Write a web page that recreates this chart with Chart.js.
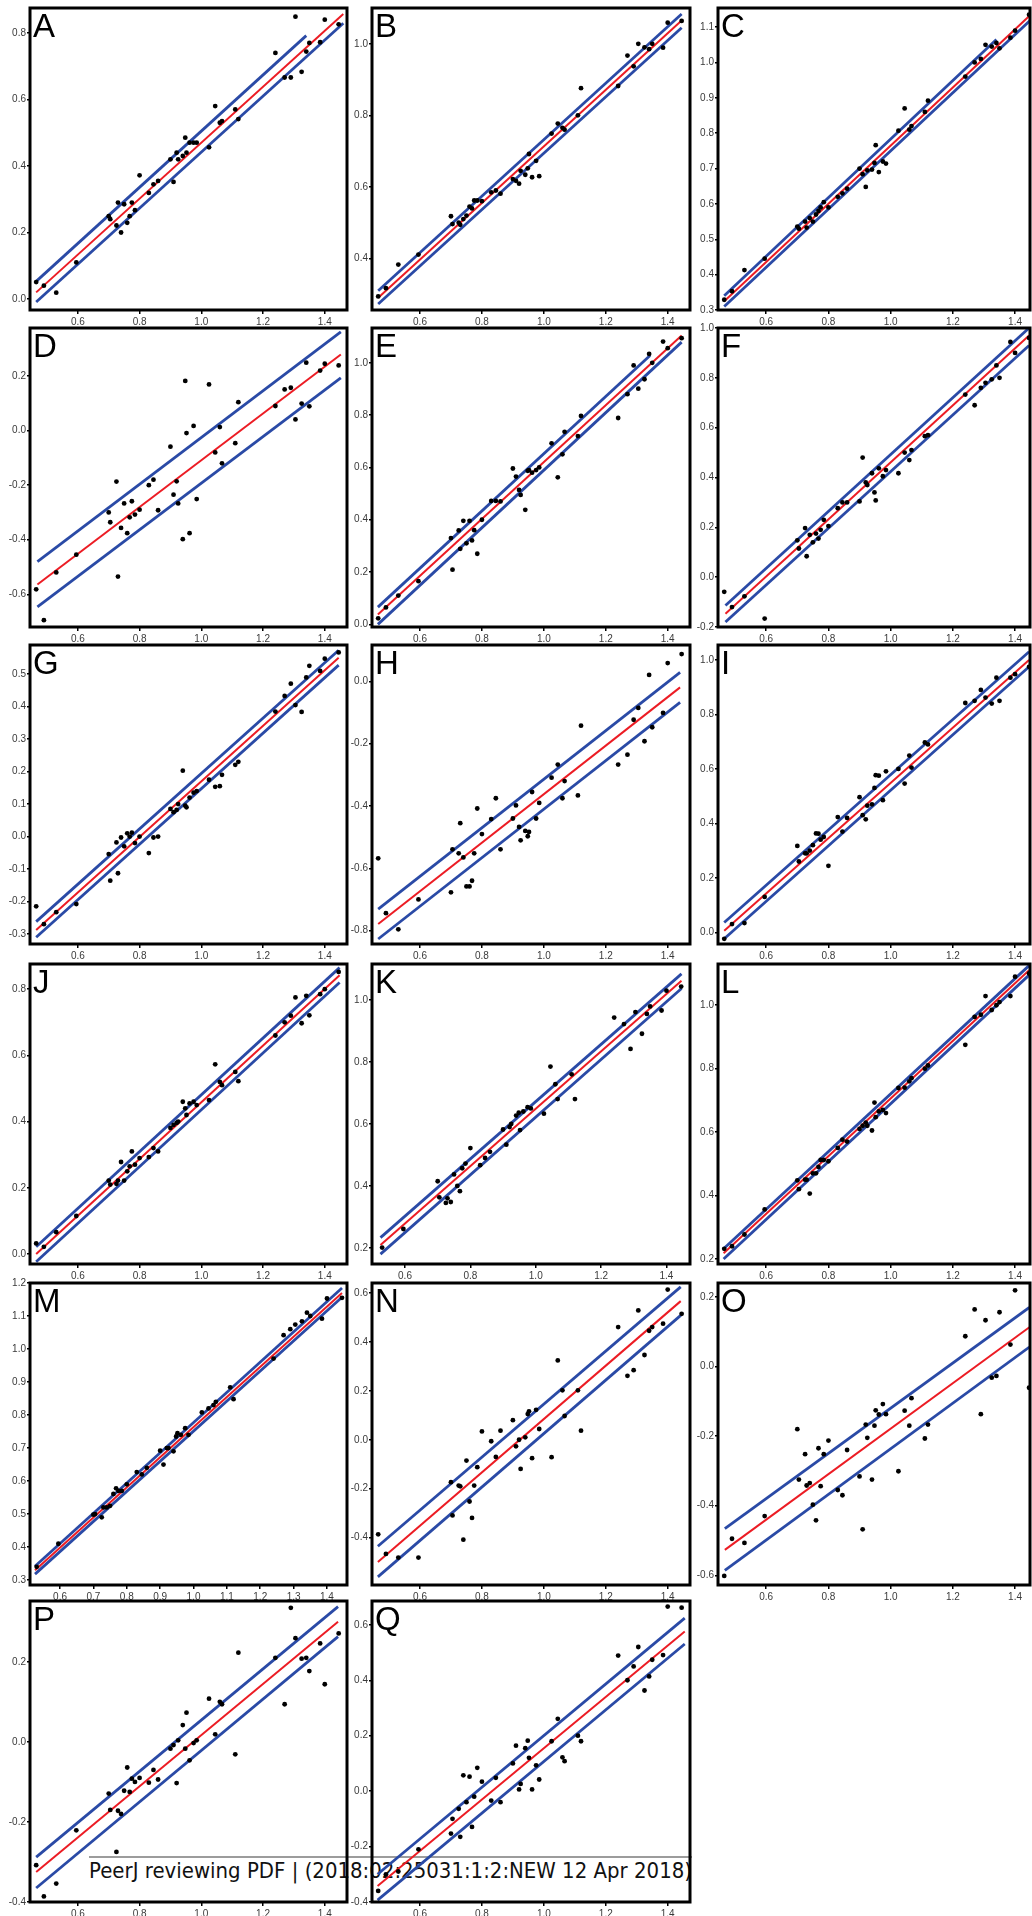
<!DOCTYPE html>
<html>
<head>
<meta charset="utf-8">
<script src="https://cdn.jsdelivr.net/npm/chart.js@4.4.0/dist/chart.umd.min.js"></script>
<style>
  body { margin: 0; background: #fff; width: 1032px; height: 1916px; position: relative; overflow: hidden; }
  canvas { position: absolute; }
  #footLine { position: absolute; left: 89px; top: 1856px; width: 603px; border-top: 2px solid #9c9c9c; }
  #foot { position: absolute; left: 89px; top: 1861px; font: 21px "DejaVu Sans", sans-serif; line-height: 1; color: #111; white-space: nowrap; transform-origin: 0 0; }
</style>
</head>
<body>
<div id="footLine"></div>
<div id="foot"><span id="footText">PeerJ reviewing PDF | (2018:02:25031:1:2:NEW 12 Apr 2018)</span></div>
<script>
// shared x values (same samples in every panel)
const xs = [0.465, 0.49, 0.53, 0.595, 0.70, 0.705, 0.725, 0.73, 0.74, 0.75, 0.76, 0.768, 0.775, 0.785, 0.80, 0.83, 0.845, 0.86, 0.90, 0.91, 0.92, 0.925, 0.94, 0.948, 0.952, 0.962, 0.975, 0.985, 1.025, 1.045, 1.06, 1.067, 1.11, 1.12, 1.24, 1.27, 1.29, 1.305, 1.325, 1.34, 1.35, 1.385, 1.40, 1.445];

const yA = [0.051, 0.04, 0.019, 0.11, 0.249, 0.24, 0.221, 0.29, 0.2, 0.285, 0.229, 0.249, 0.29, 0.267, 0.372, 0.319, 0.345, 0.355, 0.42, 0.352, 0.44, 0.42, 0.43, 0.485, 0.44, 0.47, 0.47, 0.47, 0.456, 0.58, 0.53, 0.535, 0.57, 0.541, 0.74, 0.666, 0.666, 0.849, 0.683, 0.744, 0.77, 0.772, 0.84, 0.826];
const yB = [0.294, 0.317, 0.383, 0.411, 0.518, 0.496, 0.50, 0.494, 0.51, 0.52, 0.545, 0.54, 0.562, 0.562, 0.56, 0.585, 0.59, 0.581, 0.622, 0.617, 0.609, 0.645, 0.634, 0.652, 0.692, 0.627, 0.673, 0.63, 0.749, 0.777, 0.765, 0.76, 0.80, 0.876, 0.882, 0.967, 0.937, 1.0, 0.99, 0.985, 1.0, 0.989, 1.059, 1.064];
const yC = [0.329, 0.353, 0.413, 0.445, 0.536, 0.53, 0.55, 0.533, 0.56, 0.55, 0.57, 0.58, 0.59, 0.605, 0.59, 0.62, 0.63, 0.643, 0.70, 0.684, 0.648, 0.695, 0.697, 0.716, 0.766, 0.69, 0.72, 0.714, 0.807, 0.87, 0.81, 0.82, 0.86, 0.892, 0.96, 1.0, 1.01, 1.05, 1.045, 1.055, 1.04, 1.07, 1.09, 1.135];
const yD = [-0.582, -0.695, -0.52, -0.455, -0.30, -0.336, -0.187, -0.535, -0.357, -0.267, -0.376, -0.318, -0.259, -0.308, -0.29, -0.2, -0.18, -0.292, -0.059, -0.235, -0.186, -0.267, -0.398, 0.182, -0.009, -0.376, 0.017, -0.251, 0.169, -0.08, 0.013, -0.12, -0.046, 0.104, 0.09, 0.151, 0.157, 0.041, 0.099, 0.249, 0.089, 0.22, 0.245, 0.239];
const yE = [0.023, 0.065, 0.11, 0.165, 0.33, 0.209, 0.359, 0.289, 0.396, 0.31, 0.396, 0.321, 0.36, 0.27, 0.40, 0.472, 0.472, 0.47, 0.596, 0.565, 0.514, 0.495, 0.438, 0.587, 0.59, 0.58, 0.59, 0.60, 0.692, 0.562, 0.65, 0.736, 0.72, 0.797, 0.789, 0.88, 0.99, 0.901, 0.937, 1.034, 1.0, 1.081, 1.056, 1.094];
const yF = [-0.059, -0.12, -0.077, -0.166, 0.148, 0.115, 0.197, 0.084, 0.17, 0.14, 0.175, 0.155, 0.19, 0.23, 0.205, 0.277, 0.30, 0.30, 0.304, 0.48, 0.38, 0.37, 0.417, 0.34, 0.308, 0.437, 0.405, 0.43, 0.417, 0.50, 0.47, 0.51, 0.566, 0.57, 0.733, 0.69, 0.76, 0.78, 0.794, 0.85, 0.80, 0.944, 0.90, 0.96];
const yG = [-0.215, -0.27, -0.233, -0.208, -0.054, -0.136, -0.018, -0.113, -0.003, -0.03, 0.01, 0.0, 0.012, -0.02, 0.0, -0.051, -0.003, 0.0, 0.085, 0.075, 0.082, 0.1, 0.203, 0.095, 0.09, 0.12, 0.135, 0.14, 0.175, 0.153, 0.155, 0.19, 0.221, 0.23, 0.385, 0.433, 0.471, 0.405, 0.384, 0.49, 0.526, 0.51, 0.548, 0.567];
const yH = [-0.568, -0.744, -0.796, -0.70, -0.677, -0.539, -0.552, -0.455, -0.565, -0.658, -0.658, -0.64, -0.552, -0.408, -0.49, -0.442, -0.375, -0.539, -0.44, -0.398, -0.467, -0.51, -0.48, -0.497, -0.483, -0.355, -0.44, -0.39, -0.309, -0.267, -0.375, -0.32, -0.366, -0.142, -0.267, -0.235, -0.123, -0.085, -0.192, 0.021, -0.147, -0.101, 0.059, 0.088];
const yI = [-0.024, 0.03, 0.034, 0.13, 0.317, 0.26, 0.29, 0.29, 0.30, 0.32, 0.363, 0.362, 0.34, 0.35, 0.244, 0.423, 0.37, 0.42, 0.496, 0.43, 0.415, 0.465, 0.47, 0.53, 0.577, 0.575, 0.485, 0.591, 0.60, 0.546, 0.649, 0.605, 0.697, 0.69, 0.842, 0.85, 0.89, 0.862, 0.84, 0.935, 0.85, 0.935, 0.948, 0.975];
const yJ = [0.032, 0.022, 0.066, 0.115, 0.222, 0.21, 0.212, 0.222, 0.278, 0.222, 0.25, 0.265, 0.31, 0.27, 0.29, 0.293, 0.32, 0.31, 0.381, 0.39, 0.396, 0.40, 0.46, 0.44, 0.42, 0.455, 0.46, 0.45, 0.465, 0.573, 0.52, 0.51, 0.55, 0.522, 0.66, 0.70, 0.72, 0.775, 0.697, 0.78, 0.721, 0.785, 0.80, 0.852];
const yK = [null, null, 0.201, 0.261, 0.415, 0.363, 0.345, 0.36, 0.348, 0.437, 0.40, 0.383, 0.457, 0.472, 0.522, 0.467, 0.49, 0.51, 0.582, 0.533, 0.59, 0.60, 0.627, 0.636, 0.58, 0.64, 0.654, 0.65, 0.633, 0.785, 0.728, 0.68, 0.76, 0.68, 0.943, 0.922, 0.842, 0.961, 0.891, 0.955, 0.979, 0.966, 1.03, 1.043];
const yL = [0.232, 0.24, 0.277, 0.356, 0.448, 0.42, 0.45, 0.45, 0.406, 0.47, 0.47, 0.49, 0.512, 0.512, 0.508, 0.55, 0.576, 0.57, 0.61, 0.62, 0.63, 0.62, 0.605, 0.693, 0.647, 0.665, 0.67, 0.66, 0.739, 0.74, 0.76, 0.77, 0.80, 0.81, 0.875, 0.963, 0.97, 1.029, 0.985, 1.00, 1.01, 1.029, 1.09, 1.10];
const yM = [null, null, 0.34, 0.41, 0.498, 0.50, 0.49, 0.52, 0.52, 0.525, 0.561, 0.578, 0.57, 0.57, 0.59, 0.627, 0.62, 0.64, 0.692, 0.65, 0.70, 0.70, 0.69, 0.735, 0.745, 0.74, 0.76, 0.74, 0.808, 0.82, 0.83, 0.84, 0.884, 0.848, 0.971, 1.042, 1.06, 1.074, 1.084, 1.11, 1.10, 1.092, 1.153, 1.155];
const yN = [-0.386, -0.466, -0.481, -0.481, -0.173, -0.309, -0.187, -0.19, -0.408, -0.085, -0.252, -0.319, -0.187, -0.112, 0.034, -0.006, -0.07, 0.037, 0.08, -0.027, 0.0, -0.119, 0.01, 0.105, 0.116, -0.075, 0.122, 0.044, -0.071, 0.324, 0.202, 0.097, 0.202, 0.037, 0.46, 0.261, 0.284, 0.528, 0.346, 0.445, 0.46, 0.474, 0.613, 0.514];
const yO = [-0.602, -0.495, -0.507, -0.43, -0.18, -0.325, -0.252, -0.342, -0.335, -0.397, -0.442, -0.235, -0.344, -0.252, -0.213, -0.355, -0.37, -0.24, -0.316, -0.468, -0.167, -0.205, -0.325, -0.17, -0.126, -0.138, -0.108, -0.137, -0.301, -0.127, -0.17, -0.091, -0.207, -0.167, 0.087, 0.164, -0.137, 0.133, -0.032, -0.027, 0.156, 0.063, 0.219, -0.061];
const yP = [-0.308, -0.386, -0.354, -0.221, -0.129, -0.17, -0.275, -0.172, -0.18, -0.122, -0.064, -0.125, -0.092, -0.10, -0.09, -0.102, -0.07, -0.094, -0.017, -0.008, -0.103, 0.004, 0.042, -0.017, 0.073, -0.046, -0.003, 0.004, 0.108, 0.019, 0.10, 0.094, -0.031, 0.223, 0.21, 0.094, 0.335, 0.259, 0.208, 0.21, 0.177, 0.246, 0.144, 0.271];
const yQ = [-0.36, -0.30, -0.29, -0.21, -0.153, -0.10, -0.064, -0.165, 0.057, -0.04, 0.052, -0.129, -0.02, 0.084, 0.034, -0.034, 0.048, -0.04, 0.10, 0.164, 0.006, 0.026, 0.155, 0.182, 0.12, 0.006, 0.093, 0.042, 0.18, 0.261, 0.122, 0.108, 0.2, 0.18, 0.489, 0.4, 0.45, 0.52, 0.363, 0.414, 0.474, 0.491, 0.666, 0.662];

// fitted line and the two band lines, as [x0, y0, x1, y1]
const fitA = [0.465, 0.02, 1.46, 0.857], upA = [0.465, 0.053, 1.34, 0.792], loA = [0.465, -0.009, 1.46, 0.829];
const fitB = [0.465, 0.29, 1.445, 1.065], upB = [0.465, 0.31, 1.445, 1.083], loB = [0.465, 0.273, 1.445, 1.045];
const fitC = [0.465, 0.325, 1.45, 1.135], upC = [0.465, 0.34, 1.34, 1.065], loC = [0.465, 0.31, 1.45, 1.12];
const fitD = [0.469, -0.564, 1.452, 0.279], upD = [0.469, -0.48, 1.452, 0.362], loD = [0.469, -0.646, 1.452, 0.193];
const fitE = [0.464, 0.038, 1.445, 1.104], upE = [0.464, 0.066, 1.343, 1.028], loE = [0.464, 0.0, 1.445, 1.079];
const fitF = [0.469, -0.147, 1.445, 0.97], upF = [0.469, -0.114, 1.445, 1.0], loF = [0.469, -0.18, 1.445, 0.93];
const fitG = [0.465, -0.288, 1.445, 0.551], upG = [0.465, -0.262, 1.445, 0.574], loG = [0.465, -0.31, 1.445, 0.528];
const fitH = [0.465, -0.779, 1.44, -0.019], upH = [0.465, -0.731, 1.44, 0.029], loH = [0.465, -0.827, 1.44, -0.067];
const fitI = [0.465, 0.006, 1.445, 1.0], upI = [0.465, 0.036, 1.445, 1.03], loI = [0.465, -0.024, 1.445, 0.975];
const fitJ = [0.465, 0.0, 1.448, 0.842], upJ = [0.465, 0.022, 1.448, 0.865], loJ = [0.465, -0.023, 1.448, 0.82];
const fitK = [0.525, 0.209, 1.446, 1.062], upK = [0.525, 0.233, 1.446, 1.084], loK = [0.525, 0.18, 1.446, 1.037];
const fitL = [0.463, 0.218, 1.445, 1.11], upL = [0.463, 0.232, 1.445, 1.125], loL = [0.463, 0.20, 1.445, 1.095];
const fitM = [0.525, 0.33, 1.445, 1.17], upM = [0.525, 0.342, 1.445, 1.185], loM = [0.525, 0.318, 1.445, 1.157];
const fitN = [0.464, -0.499, 1.442, 0.566], upN = [0.464, -0.435, 1.442, 0.624], loN = [0.464, -0.56, 1.442, 0.508];
const fitO = [0.467, -0.527, 1.446, 0.113], upO = [0.467, -0.466, 1.446, 0.17], loO = [0.467, -0.586, 1.446, 0.056];
const fitP = [0.465, -0.325, 1.443, 0.3], upP = [0.465, -0.288, 1.443, 0.338], loP = [0.465, -0.365, 1.443, 0.263];
const fitQ = [0.463, -0.342, 1.455, 0.576], upQ = [0.463, -0.30, 1.455, 0.624], loQ = [0.463, -0.393, 1.455, 0.531];

// tick labels
const xTicks = [0.6, 0.8, 1.0, 1.2, 1.4];
const xTicksM = [0.6, 0.7, 0.8, 0.9, 1.0, 1.1, 1.2, 1.3, 1.4];
const ticks01 = [0.0, 0.2, 0.4, 0.6, 0.8, 1.0];
const ticksA = [0.0, 0.2, 0.4, 0.6, 0.8];
const ticksB = [0.4, 0.6, 0.8, 1.0];
const ticksC = [0.3, 0.4, 0.5, 0.6, 0.7, 0.8, 0.9, 1.0, 1.1];
const ticksD = [-0.6, -0.4, -0.2, 0.0, 0.2];
const ticksF = [-0.2, 0.0, 0.2, 0.4, 0.6, 0.8, 1.0];
const ticksG = [-0.3, -0.2, -0.1, 0.0, 0.1, 0.2, 0.3, 0.4, 0.5];
const ticksH = [-0.8, -0.6, -0.4, -0.2, 0.0];
const ticksK = [0.2, 0.4, 0.6, 0.8, 1.0];
const ticksM = [0.3, 0.4, 0.5, 0.6, 0.7, 0.8, 0.9, 1.0, 1.1, 1.2];
const ticksN = [-0.4, -0.2, 0.0, 0.2, 0.4, 0.6];
const ticksP = [-0.4, -0.2, 0.0, 0.2];

const panels = [
  { letter: 'A', ys: yA, fit: fitA, up: upA, lo: loA, yt: ticksA, yMin: -0.033, yMax: 0.875 },
  { letter: 'B', ys: yB, fit: fitB, up: upB, lo: loB, yt: ticksB, yMin: 0.256, yMax: 1.10 },
  { letter: 'C', ys: yC, fit: fitC, up: upC, lo: loC, yt: ticksC, yMin: 0.3, yMax: 1.154 },
  { letter: 'D', ys: yD, fit: fitD, up: upD, lo: loD, yt: ticksD, yMin: -0.72, yMax: 0.376 },
  { letter: 'E', ys: yE, fit: fitE, up: upE, lo: loE, yt: ticks01, yMin: -0.01, yMax: 1.133 },
  { letter: 'F', ys: yF, fit: fitF, up: upF, lo: loF, yt: ticksF, yMin: -0.2, yMax: 1.0 },
  { letter: 'G', ys: yG, fit: fitG, up: upG, lo: loG, yt: ticksG, yMin: -0.331, yMax: 0.59 },
  { letter: 'H', ys: yH, fit: fitH, up: upH, lo: loH, yt: ticksH, yMin: -0.843, yMax: 0.117 },
  { letter: 'I', ys: yI, fit: fitI, up: upI, lo: loI, yt: ticks01, yMin: -0.043, yMax: 1.055 },
  { letter: 'J', ys: yJ, fit: fitJ, up: upJ, lo: loJ, yt: ticksA, yMin: -0.03, yMax: 0.876 },
  { letter: 'K', ys: yK, fit: fitK, up: upK, lo: loK, yt: ticksK, yMin: 0.148, yMax: 1.116, xMin: 0.499 },
  { letter: 'L', ys: yL, fit: fitL, up: upL, lo: loL, yt: ticksK, yMin: 0.184, yMax: 1.13 },
  { letter: 'M', ys: yM, fit: fitM, up: upM, lo: loM, yt: ticksM, yMin: 0.285, yMax: 1.2, xMin: 0.51, xMax: 1.46, xt: xTicksM },
  { letter: 'N', ys: yN, fit: fitN, up: upN, lo: loN, yt: ticksN, yMin: -0.593, yMax: 0.64 },
  { letter: 'O', ys: yO, fit: fitO, up: upO, lo: loO, yt: ticksD, yMin: -0.628, yMax: 0.24 },
  { letter: 'P', ys: yP, fit: fitP, up: upP, lo: loP, yt: ticksP, yMin: -0.4, yMax: 0.352 },
  { letter: 'Q', ys: yQ, fit: fitQ, up: upQ, lo: loQ, yt: ticksN, yMin: -0.4, yMax: 0.686 },
];

// panel frames on the page
const colLeft = [30, 372, 718];
const colRight = [348, 691, 1031];
const colXMax = [1.472, 1.472, 1.448];
const rowTop = [8, 328, 645, 964, 1283, 1601];
const rowBottom = [310, 627, 944, 1264, 1585, 1902];
const PAD_TOP = 8, PAD_RIGHT = 3, Y_AXIS_W = 30, X_AXIS_H = 18;

const RED = '#ec1c24';
const BLUE = '#2a4aa6';
const tickFont = { family: '"Liberation Sans", Arial, sans-serif', size: 10 };

const framePlugin = {
  id: 'frame',
  afterDraw(chart, args, opts) {
    const { ctx, chartArea: a } = chart;
    ctx.save();
    ctx.strokeStyle = '#000';
    ctx.lineWidth = 3;
    ctx.strokeRect(a.left, a.top, a.right - a.left, a.bottom - a.top);
    ctx.fillStyle = '#000';
    ctx.font = '33px "Liberation Sans", Arial, sans-serif';
    ctx.textBaseline = 'alphabetic';
    ctx.fillText(opts.letter, a.left + 3, a.top + 29);
    ctx.restore();
  }
};

const seg = (l) => [{ x: l[0], y: l[1] }, { x: l[2], y: l[3] }];

panels.forEach((p, i) => {
  const col = i % 3, row = Math.floor(i / 3);
  const boxL = colLeft[col], boxR = colRight[col];
  const boxT = rowTop[row], boxB = rowBottom[row];

  const canvas = document.createElement('canvas');
  canvas.width = boxR - boxL + Y_AXIS_W + PAD_RIGHT;
  canvas.height = boxB - boxT + PAD_TOP + X_AXIS_H;
  canvas.style.left = (boxL - Y_AXIS_W) + 'px';
  canvas.style.top = (boxT - PAD_TOP) + 'px';
  document.body.appendChild(canvas);

  const points = xs.map((x, k) => ({ x: x, y: p.ys[k] })).filter(pt => pt.y !== null);
  const xt = p.xt || xTicks;

  new Chart(canvas, {
    type: 'scatter',
    data: {
      datasets: [
        { data: points, backgroundColor: '#000', borderWidth: 0, pointRadius: 2.4, order: 0 },
        { data: seg(p.fit), showLine: true, borderColor: RED, borderWidth: 2, pointRadius: 0, order: 1 },
        { data: seg(p.up), showLine: true, borderColor: BLUE, borderWidth: 2.8, pointRadius: 0, order: 2 },
        { data: seg(p.lo), showLine: true, borderColor: BLUE, borderWidth: 2.8, pointRadius: 0, order: 2 },
      ]
    },
    options: {
      responsive: false,
      animation: false,
      devicePixelRatio: 1,
      layout: { padding: { top: PAD_TOP, right: PAD_RIGHT, left: 0, bottom: 0 } },
      plugins: { legend: { display: false }, tooltip: { enabled: false }, frame: { letter: p.letter } },
      scales: {
        x: {
          type: 'linear',
          min: p.xMin || 0.445,
          max: p.xMax || colXMax[col],
          afterBuildTicks: (axis) => { axis.ticks = xt.map(v => ({ value: v })); },
          afterFit: (axis) => { axis.height = X_AXIS_H; },
          border: { display: false },
          grid: { drawOnChartArea: false, drawTicks: true, tickLength: 4, color: '#000', lineWidth: 1.5 },
          ticks: { autoSkip: false, maxRotation: 0, padding: 2, color: '#3a3a3a', font: tickFont, callback: v => v.toFixed(1) }
        },
        y: {
          type: 'linear',
          min: p.yMin,
          max: p.yMax,
          afterBuildTicks: (axis) => { axis.ticks = p.yt.map(v => ({ value: v })); },
          afterFit: (axis) => { axis.width = Y_AXIS_W; },
          border: { display: false },
          grid: { drawOnChartArea: false, drawTicks: true, tickLength: 3, color: '#000', lineWidth: 1.5 },
          ticks: { autoSkip: false, padding: 1, color: '#3a3a3a', font: tickFont, callback: v => v.toFixed(1) }
        }
      }
    },
    plugins: [framePlugin]
  });
});

// squeeze the footer text to the width it has in the reference
const footText = document.getElementById('footText');
const w = footText.getBoundingClientRect().width;
document.getElementById('foot').style.transform = 'scaleX(' + (603 / w) + ')';
</script>
</body>
</html>
